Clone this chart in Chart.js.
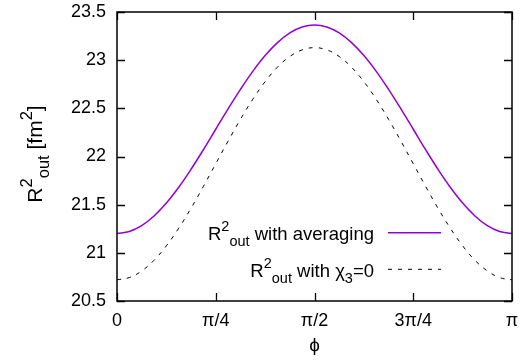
<!DOCTYPE html>
<html>
<head>
<meta charset="utf-8">
<script src="https://cdn.jsdelivr.net/npm/chart.js@4"></script>
<style>
  html, body { margin: 0; padding: 0; background: #fff; }
</style>
</head>
<body>
<canvas id="chart" width="529" height="363"></canvas>
<script>
// phi in units of pi
const phiOverPi = [0, 0.03125, 0.0625, 0.09375, 0.125, 0.15625, 0.1875, 0.21875, 0.25,
                   0.28125, 0.3125, 0.34375, 0.375, 0.40625, 0.4375, 0.46875, 0.5,
                   0.53125, 0.5625, 0.59375, 0.625, 0.65625, 0.6875, 0.71875, 0.75,
                   0.78125, 0.8125, 0.84375, 0.875, 0.90625, 0.9375, 0.96875, 1];
const rAveraging = [21.200, 21.221, 21.282, 21.383, 21.517, 21.681, 21.868, 22.071, 22.283,
                    22.494, 22.697, 22.884, 23.048, 23.182, 23.283, 23.344, 23.365,
                    23.344, 23.283, 23.182, 23.048, 22.884, 22.697, 22.494, 22.283,
                    22.071, 21.868, 21.681, 21.517, 21.383, 21.282, 21.221, 21.200];
const rChiZero = [20.720, 20.743, 20.812, 20.923, 21.073, 21.256, 21.464, 21.690, 21.925,
                  22.160, 22.386, 22.594, 22.777, 22.927, 23.038, 23.107, 23.130,
                  23.107, 23.038, 22.927, 22.777, 22.594, 22.386, 22.160, 21.925,
                  21.690, 21.464, 21.256, 21.073, 20.923, 20.812, 20.743, 20.720];
const xTickLabels = ['0', 'π/4', 'π/2', '3π/4', 'π'];
const yTickLabels = ['20.5', '21', '21.5', '22', '22.5', '23', '23.5'];

const FAMILY = '"Liberation Sans", Arial, Helvetica, sans-serif';

// text pieces: s = 'sup' | 'sub' for raised / lowered small text
function richWidth(ctx, parts, st) {
    let w = 0;
    parts.forEach(p => {
        ctx.font = (p.s ? st.small : st.big) + 'px ' + FAMILY;
        w += ctx.measureText(p.t).width;
    });
    return w;
}
function drawRich(ctx, parts, x, y, st) {
    parts.forEach(p => {
        ctx.font = (p.s ? st.small : st.big) + 'px ' + FAMILY;
        const dy = p.s === 'sup' ? -st.up : (p.s === 'sub' ? st.down : 0);
        ctx.fillText(p.t, x, y + dy);
        x += ctx.measureText(p.t).width;
    });
}

const keyStyle = {big: 18.5, small: 14.5, up: 9, down: 6};
const titleStyle = {big: 21, small: 16.5, up: 10.5, down: 7};

const yTitle = [{t: 'R'}, {t: '2', s: 'sup'}, {t: 'out', s: 'sub'}, {t: ' [fm'}, {t: '2', s: 'sup'}, {t: ']'}];
const keyRows = [
    [{t: 'R'}, {t: '2', s: 'sup'}, {t: 'out', s: 'sub'}, {t: ' with averaging'}],
    [{t: 'R'}, {t: '2', s: 'sup'}, {t: 'out', s: 'sub'}, {t: ' with '}, {t: 'χ'}, {t: '3', s: 'sub'}, {t: '=0'}]
];

// gnuplot look: frame, inward ticks, rich text titles and key
const gnuplotPlugin = {
    id: 'gnuplotFrame',
    afterDraw: (chart) => {
        const {ctx, chartArea} = chart;
        const {left, right, top, bottom} = chartArea;
        const xs = chart.scales.x, ys = chart.scales.y;
        const tick = 8;
        ctx.save();
        ctx.strokeStyle = '#000';
        ctx.lineWidth = 1.3;
        ctx.beginPath();
        xs.ticks.forEach(t => {
            const px = Math.round(xs.getPixelForValue(t.value)) + 0.5;
            ctx.moveTo(px, bottom); ctx.lineTo(px, bottom - tick);
            ctx.moveTo(px, top); ctx.lineTo(px, top + tick);
        });
        ys.ticks.forEach(t => {
            const py = Math.round(ys.getPixelForValue(t.value)) + 0.5;
            ctx.moveTo(left, py); ctx.lineTo(left + tick, py);
            ctx.moveTo(right, py); ctx.lineTo(right - tick, py);
        });
        ctx.stroke();
        ctx.lineWidth = 1.5;
        ctx.strokeRect(left, top, right - left, bottom - top);

        ctx.fillStyle = '#000';
        ctx.textBaseline = 'alphabetic';
        ctx.textAlign = 'left';

        // y title, rotated
        ctx.save();
        ctx.translate(42, 154);
        ctx.rotate(-Math.PI / 2);
        drawRich(ctx, yTitle, -richWidth(ctx, yTitle, titleStyle) / 2, 0, titleStyle);
        ctx.restore();

        // x title
        ctx.font = '19px ' + FAMILY;
        ctx.textAlign = 'center';
        ctx.textBaseline = 'middle';
        ctx.fillText('ϕ', xs.getPixelForValue(0.5), 346);
        ctx.textAlign = 'left';
        ctx.textBaseline = 'alphabetic';

        // key
        const keyRight = 374, lineX0 = 388, lineX1 = 441;
        const baselines = [240, 276.5];
        const lineYs = [232.7, 269.3];
        keyRows.forEach((row, i) => {
            drawRich(ctx, row, keyRight - richWidth(ctx, row, keyStyle), baselines[i], keyStyle);
            const ds = chart.data.datasets[i];
            ctx.beginPath();
            ctx.strokeStyle = ds.borderColor;
            ctx.lineWidth = ds.borderWidth;
            ctx.setLineDash(ds.borderDash || []);
            ctx.moveTo(lineX0, lineYs[i]);
            ctx.lineTo(lineX1, lineYs[i]);
            ctx.stroke();
        });
        ctx.restore();
    }
};

const tickFont = {family: FAMILY, size: 18};

new Chart(document.getElementById('chart').getContext('2d'), {
    type: 'line',
    data: {
        datasets: [{
            label: 'R2out with averaging',
            data: phiOverPi.map((p, i) => ({x: p, y: rAveraging[i]})),
            borderColor: '#9400d3',
            borderWidth: 1.5,
            pointRadius: 0,
            tension: 0.4,
            fill: false
        }, {
            label: 'R2out with chi3=0',
            data: phiOverPi.map((p, i) => ({x: p, y: rChiZero[i]})),
            borderColor: '#000000',
            borderWidth: 1,
            borderDash: [4, 6],
            pointRadius: 0,
            tension: 0.4,
            fill: false
        }]
    },
    options: {
        responsive: false,
        animation: false,
        layout: {padding: {left: 0, top: 12, right: 17, bottom: 0}},
        plugins: {
            legend: {display: false},
            tooltip: {enabled: false}
        },
        scales: {
            x: {
                type: 'linear',
                min: 0,
                max: 1,
                afterFit: (s) => { s.height = 62; s.paddingLeft = 0; s.paddingRight = 0; },
                grid: {display: false, drawTicks: false},
                border: {display: false},
                ticks: {
                    stepSize: 0.25,
                    autoSkip: false,
                    maxRotation: 0,
                    padding: 9,
                    color: '#000',
                    font: tickFont,
                    callback: (v, i) => xTickLabels[i]
                }
            },
            y: {
                min: 20.5,
                max: 23.5,
                afterFit: (s) => { s.width = 117; s.paddingTop = 0; s.paddingBottom = 0; },
                grid: {display: false, drawTicks: false},
                border: {display: false},
                ticks: {
                    stepSize: 0.5,
                    padding: 11,
                    color: '#000',
                    font: tickFont,
                    callback: (v, i) => yTickLabels[i]
                }
            }
        }
    },
    plugins: [gnuplotPlugin]
});
</script>
</body>
</html>
